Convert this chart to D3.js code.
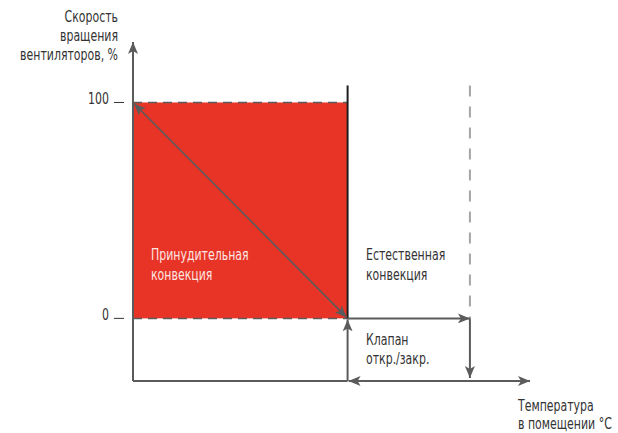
<!DOCTYPE html>
<html>
<head>
<meta charset="utf-8">
<script src="https://cdn.jsdelivr.net/npm/d3@7"></script>
<style>
  html, body { margin: 0; padding: 0; background: #fff; }
  svg text { font-family: "DejaVu Sans", sans-serif; }
</style>
</head>
<body>
<div id="chart"></div>
<script>
// DATA ↓
const yTicks = [0, 100];                       // fan speed, %
const tempPoints = [0, 100, 157, 185];         // origin, end of forced, end of valve zone, axis end
const axisMin = { temp: 0, speed: -29 };
const axisMax = { temp: 185, speed: 128 };
const yTitle = ["Скорость", "вращения", "вентиляторов, %"];
const xTitle = ["Температура", "в помещении °C"];
const forcedLabel = ["Принудительная", "конвекция"];
const naturalLabel = ["Естественная", "конвекция"];
const valveLabel = ["Клапан", "откр./закр."];
// DATA ↑

const w = 618, h = 433;
const grey = "#5b5b5b";
const red = "#e73427";
const squeeze = 0.73; // condensed look

const svg = d3.select("#chart").append("svg").attr("width", w).attr("height", h);

const x = d3.scaleLinear().domain([axisMin.temp, axisMax.temp]).range([133, 530]);
const y = d3.scaleLinear().domain([axisMin.speed, axisMax.speed]).range([381, 42]);

// arrowheads
const defs = svg.append("defs");
defs.append("marker")
  .attr("id", "arr")
  .attr("viewBox", "0 0 12 10")
  .attr("refX", 12).attr("refY", 5)
  .attr("markerWidth", 12).attr("markerHeight", 10)
  .attr("markerUnits", "userSpaceOnUse")
  .attr("orient", "auto-start-reverse")
  .append("path")
  .attr("d", "M0,0 L12,5 L0,10 L3,5 Z")
  .attr("fill", grey);

const [t0, t1, t2, tEnd] = tempPoints;
const [s0, s100] = yTicks;

// forced convection area
svg.append("rect")
  .attr("x", x(t0)).attr("y", y(s100))
  .attr("width", x(t1) - x(t0)).attr("height", y(s0) - y(s100))
  .attr("fill", red);

// dashed 0 / 100 lines
yTicks.forEach(v => {
  svg.append("line")
    .attr("x1", x(t0)).attr("x2", x(t1))
    .attr("y1", y(v)).attr("y2", y(v))
    .attr("stroke", grey).attr("stroke-width", 1.5)
    .attr("stroke-dasharray", "9,6");
});

// black boundary
svg.append("line")
  .attr("x1", x(t1)).attr("x2", x(t1))
  .attr("y1", y(s100) - 17).attr("y2", y(s0))
  .attr("stroke", "#1e1e1e").attr("stroke-width", 2);

// grey dashed boundary
svg.append("line")
  .attr("x1", x(t2)).attr("x2", x(t2))
  .attr("y1", y(s100) - 17).attr("y2", y(s0))
  .attr("stroke", "#a5a5a5").attr("stroke-width", 2)
  .attr("stroke-dasharray", "11,10");

// axes
svg.append("line")
  .attr("x1", x(t0)).attr("x2", x(t0))
  .attr("y1", y(axisMin.speed)).attr("y2", y(axisMax.speed))
  .attr("stroke", grey).attr("stroke-width", 2)
  .attr("marker-end", "url(#arr)");
svg.append("line")
  .attr("x1", x(t0)).attr("x2", x(t1))
  .attr("y1", y(axisMin.speed)).attr("y2", y(axisMin.speed))
  .attr("stroke", grey).attr("stroke-width", 2);
svg.append("line")
  .attr("x1", x(t1) + 1).attr("x2", x(tEnd))
  .attr("y1", y(axisMin.speed)).attr("y2", y(axisMin.speed))
  .attr("stroke", grey).attr("stroke-width", 2)
  .attr("marker-start", "url(#arr)").attr("marker-end", "url(#arr)");

// diagonal double arrow
svg.append("line")
  .attr("x1", x(t0) + 1).attr("y1", y(s100) + 1)
  .attr("x2", x(t1) - 1).attr("y2", y(s0) - 1)
  .attr("stroke", grey).attr("stroke-width", 1.6)
  .attr("marker-start", "url(#arr)").attr("marker-end", "url(#arr)");

// valve arrows
svg.append("line")
  .attr("x1", x(t1)).attr("y1", y(s0))
  .attr("x2", x(t2)).attr("y2", y(s0))
  .attr("stroke", grey).attr("stroke-width", 2)
  .attr("marker-end", "url(#arr)");
svg.append("line")
  .attr("x1", x(t1)).attr("y1", y(axisMin.speed))
  .attr("x2", x(t1)).attr("y2", y(s0) + 1)
  .attr("stroke", grey).attr("stroke-width", 2)
  .attr("marker-end", "url(#arr)");
svg.append("line")
  .attr("x1", x(t2)).attr("y1", y(s0))
  .attr("x2", x(t2)).attr("y2", y(axisMin.speed) - 3)
  .attr("stroke", grey).attr("stroke-width", 2)
  .attr("marker-end", "url(#arr)");

// condensed text line
const label = (s, tx, ty, anchor, color) =>
  svg.append("text")
    .attr("transform", `translate(${tx},${ty}) scale(${squeeze},1)`)
    .attr("font-size", 15).attr("fill", color).attr("text-anchor", anchor)
    .text(s);

// y ticks
yTicks.forEach(d => {
  label(d, 109, y(d) + 2, "end", "#333");
  svg.append("line")
    .attr("x1", 114).attr("x2", 124)
    .attr("y1", y(d)).attr("y2", y(d))
    .attr("stroke", "#333").attr("stroke-width", 1);
});

// text blocks
const block = (lines, tx, ty, lh, anchor, color) =>
  lines.forEach((s, i) => label(s, tx, ty + i * lh, anchor, color));

block(yTitle, 118, 22, 19, "end", "#333");
block(xTitle, 518, 411, 18, "start", "#333");
block(forcedLabel, 151, 260, 20, "start", "#fde6e2");
block(naturalLabel, 366, 260, 20, "start", "#333");
block(valveLabel, 366, 345, 19, "start", "#333");
</script>
</body>
</html>
